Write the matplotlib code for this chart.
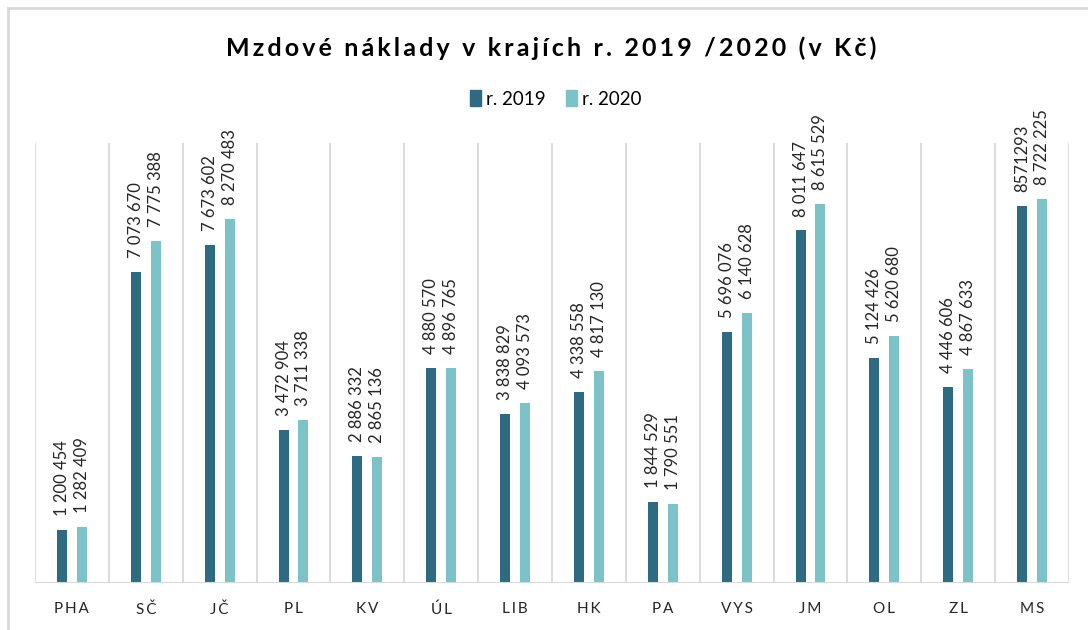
import numpy as np
import matplotlib.pyplot as plt
from matplotlib.lines import Line2D

# data
regions = ['PHA', 'SČ', 'JČ', 'PL', 'KV', 'ÚL', 'LIB', 'HK', 'PA', 'VYS', 'JM', 'OL', 'ZL', 'MS']
costs_2019 = [1200454, 7073670, 7673602, 3472904, 2886332, 4880570, 3838829,
              4338558, 1844529, 5696076, 8011647, 5124426, 4446606, 8571293]
costs_2020 = [1282409, 7775388, 8270483, 3711338, 2865136, 4896765, 4093573,
              4817130, 1790551, 6140628, 8615529, 5620680, 4867633, 8722225]
labels_2019 = ['1 200 454', '7 073 670', '7 673 602', '3 472 904', '2 886 332', '4 880 570', '3 838 829',
               '4 338 558', '1 844 529', '5 696 076', '8 011 647', '5 124 426', '4 446 606', '8571293']
labels_2020 = ['1 282 409', '7 775 388', '8 270 483', '3 711 338', '2 865 136', '4 896 765', '4 093 573',
               '4 817 130', '1 790 551', '6 140 628', '8 615 529', '5 620 680', '4 867 633', '8 722 225']
series_names = ['r. 2019', 'r. 2020']

DARK = '#2E6B83'
LIGHT = '#7DC2C8'
GRID = '#D9D9D9'
FAM = ['Lato', 'DejaVu Sans']
TS = '\u2009'  # thin space for letter spacing

plt.rcParams['font.family'] = FAM

fig = plt.figure(figsize=(10.88, 6.3), dpi=100)
ax = fig.add_axes([35 / 1088, 47 / 630, 1034 / 1088, 440 / 630])

x = np.arange(len(regions))
w = 0.135
ax.bar(x - w, costs_2019, width=w, color=DARK, zorder=3)
ax.bar(x + w, costs_2020, width=w, color=LIGHT, zorder=3)

# value labels, rotated
for i in range(len(regions)):
    ax.annotate(labels_2019[i], (x[i] - w, costs_2019[i]), xytext=(0, 10), textcoords='offset points',
                rotation=90, ha='center', va='bottom', fontsize=12, color='#262626')
    ax.annotate(labels_2020[i], (x[i] + w, costs_2020[i]), xytext=(0, 10), textcoords='offset points',
                rotation=90, ha='center', va='bottom', fontsize=12, color='#262626')

ax.set_xlim(-0.5, len(regions) - 0.5)
ax.set_ylim(0, 10000000)

# vertical separators between categories
for b in np.arange(-0.5, len(regions), 1.0):
    ax.axvline(b, color=GRID, lw=1.3, zorder=1)
ax.axhline(0, color=GRID, lw=1.5, zorder=4)

for s in ax.spines.values():
    s.set_visible(False)
ax.set_yticks([])
ax.set_xticks(x)
ax.set_xticklabels([TS.join(r) for r in regions], fontsize=11, color='#262626')
ax.tick_params(axis='x', length=0, pad=14)

# title with some letter spacing
title = 'Mzdové náklady v krajích r. 2019 /2020 (v Kč)'
fig.text(551 / 1088, 1 - 48 / 630, TS.join(title), ha='center', va='center',
         fontsize=18, fontweight='bold', color='black')

handles = [plt.Rectangle((0, 0), 1, 1, color=DARK), plt.Rectangle((0, 0), 1, 1, color=LIGHT)]
fig.legend(handles, series_names, loc='center', bbox_to_anchor=(556 / 1088, 1 - 99 / 630), ncol=2,
           frameon=False, fontsize=13.5, handlelength=0.55, handleheight=0.9, handletextpad=0.3,
           columnspacing=1.1)

# outer chart border (top and left visible)
fig.add_artist(Line2D([8 / 1088, 1], [1 - 8 / 630, 1 - 8 / 630], color=GRID, lw=2, transform=fig.transFigure))
fig.add_artist(Line2D([8 / 1088, 8 / 1088], [0, 1 - 8 / 630], color=GRID, lw=2, transform=fig.transFigure))

fig.savefig('out.png', dpi=100)
